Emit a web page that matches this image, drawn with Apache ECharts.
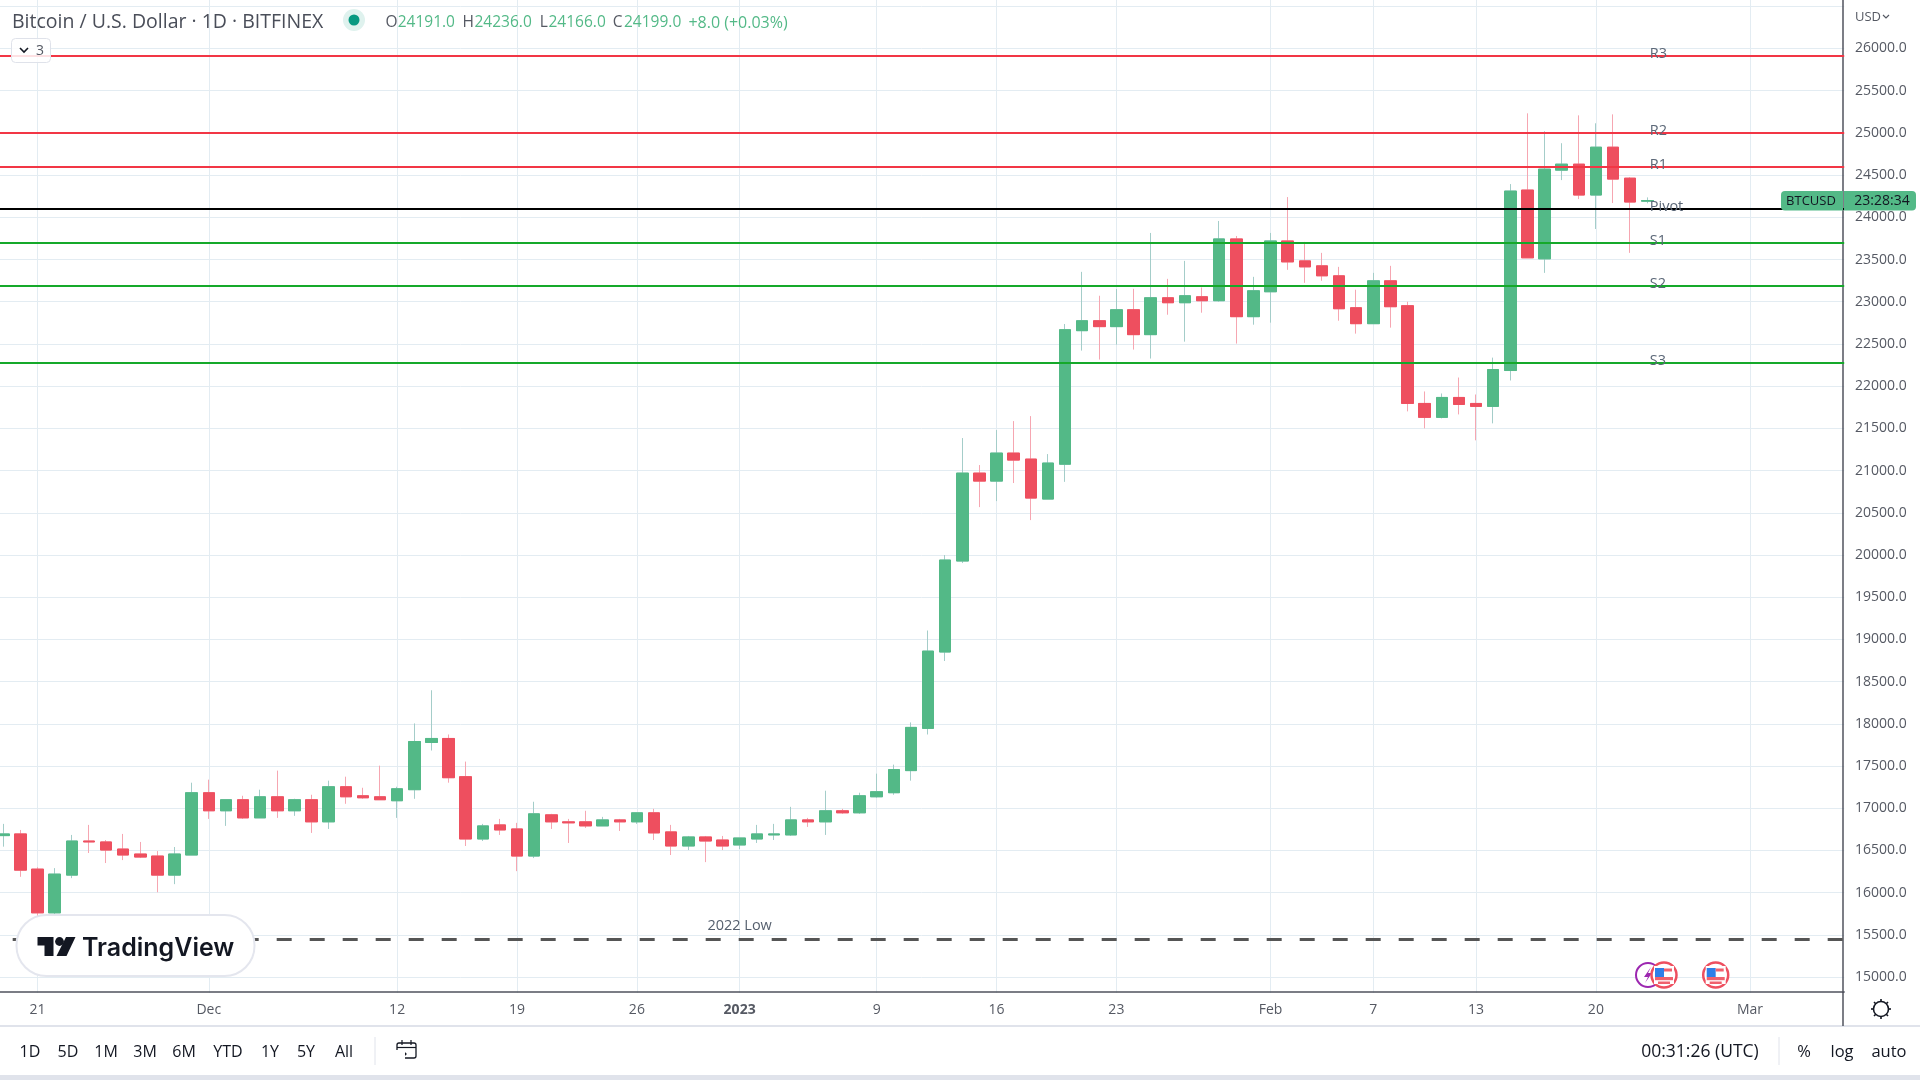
<!DOCTYPE html>
<html><head><meta charset="utf-8"><title>Bitcoin / U.S. Dollar</title>
<style>html,body{margin:0;padding:0;background:#fff}#c{width:1920px;height:1080px}</style>
<script src="https://cdn.jsdelivr.net/npm/echarts@6/dist/echarts.min.js"></script></head>
<body><div id="c"></div><script>
const categories = ['11-19','11-20','11-21','11-22','11-23','11-24','11-25','11-26','11-27','11-28','11-29','11-30',
'12-01','12-02','12-03','12-04','12-05','12-06','12-07','12-08','12-09','12-10','12-11','12-12','12-13','12-14','12-15','12-16','12-17','12-18','12-19','12-20','12-21','12-22','12-23','12-24','12-25','12-26','12-27','12-28','12-29','12-30','12-31',
'01-01','01-02','01-03','01-04','01-05','01-06','01-07','01-08','01-09','01-10','01-11','01-12','01-13','01-14','01-15','01-16','01-17','01-18','01-19','01-20','01-21','01-22','01-23','01-24','01-25','01-26','01-27','01-28','01-29','01-30','01-31',
'02-01','02-02','02-03','02-04','02-05','02-06','02-07','02-08','02-09','02-10','02-11','02-12','02-13','02-14','02-15','02-16','02-17','02-18','02-19','02-20','02-21','02-22','02-23','02-24','02-25','02-26','02-27','02-28',
'03-01','03-02','03-03','03-04','03-05','03-06'];
const tickLabels = {'11-21':'21','12-01':'Dec','12-12':'12','12-19':'19','12-26':'26','01-01':'2023','01-09':'9','01-16':'16','01-23':'23','02-01':'Feb','02-07':'7','02-13':'13','02-20':'20','03-01':'Mar'};
const opens = [16675,16695,16278,15760,16207,16611,16600,16516,16457,16433,16207,16445,
17183,16969,17100,16885,17135,16969,17100,16838,17254,17147,17135,17088,17219,17778,17826,17373,16635,16802,16754,16433,16921,16838,16838,16790,16861,16838,16945,16719,16552,16659,16623,
16564,16635,16683,16683,16861,16838,16969,16945,17135,17183,17445,17945,18850,19928,20970,20875,21207,21136,20662,21075,22657,22775,22705,22905,22610,23047,22988,23059,23012,23744,22823,
23118,23720,23484,23425,23307,22929,22740,23248,22953,21795,21630,21866,21795,21760,22185,24323,23508,24559,24630,24264,24831,24464,24191];
const closes = [16695,16266,15760,16219,16611,16600,16504,16445,16421,16207,16457,17183,
16969,17100,16885,17135,16969,17100,16838,17254,17135,17123,17100,17230,17790,17826,17361,16635,16790,16742,16433,16933,16838,16826,16790,16861,16838,16945,16707,16552,16659,16611,16552,
16647,16695,16695,16861,16838,16969,16945,17147,17195,17457,17957,18861,19940,20970,20875,21207,21124,20674,21089,22669,22775,22705,22905,22610,23047,22988,23071,23012,23744,22823,23130,
23720,23472,23413,23307,22917,22740,23248,22941,21795,21630,21866,21783,21760,22197,24311,23520,24571,24630,24264,24831,24453,24181,24199];
const lows = [16544,16187,15500,15630,16171,16469,16350,16385,16409,16004,16100,16445,
16873,16790,16873,16885,16885,16909,16707,16754,17052,17111,17100,16885,17111,17683,17302,16552,16611,16683,16254,16409,16754,16588,16766,16790,16730,16814,16623,16445,16504,16361,16504,
16516,16588,16623,16671,16778,16683,16933,16933,17123,17159,17326,17873,18744,19904,20567,20638,20852,20413,20662,20866,22421,22315,22492,22433,22327,22846,22527,22870,23000,22504,22728,
22752,23378,23224,23248,22775,22622,22740,22693,21701,21500,21618,21665,21358,21559,22067,23520,23342,24441,24216,23862,24169,23579,24166];
const highs = [16814,16742,16300,16290,16683,16802,16623,16695,16600,16492,16540,17302,
17338,17100,17147,17219,17445,17112,17159,17326,17373,17242,17504,17254,18004,18397,17873,17552,16814,16873,16826,17076,16933,16873,16969,16897,16873,16945,16992,16802,16671,16671,16671,
16647,16802,16814,17016,16885,17207,16992,17183,17409,17516,18016,19105,19999,21385,21065,21480,21586,21645,21195,22736,23354,23071,23150,23153,23815,23271,23484,23169,23957,23779,23295,
23815,24240,23709,23579,23413,23142,23342,23425,23000,21937,21913,22102,21901,22338,24394,25232,25020,24878,25208,25114,25220,24476,24236];
const levelNames = ['R3','R2','R1','Pivot','S1','S2','S3'];
const levelValues = [25911,25000,24597,24100,23700,23190,22280];
const levelColors = ['#f23645','#f23645','#f23645','#000000','#15a92a','#15a92a','#15a92a'];
const lowValue = 15450, lowName = '2022 Low', lowDate = '01-01';
const levelLabelDate = '02-23';
const UI = '"Open Sans",sans-serif';
const GREEN='#53b987', RED='#ee4f5f', WG='#a4cdc9', WR='#f6a6b1', GRID='#e3ecf2', AX='#50535e', TXT='#555963', DARK='#131722';

const full = opens.map((o,i)=>[o,closes[i],lows[i],highs[i]]);
const body = opens.map((o,i)=>[o,closes[i],Math.min(o,closes[i]),Math.max(o,closes[i])]);

function T(x,y,text,size,fill,align,extra){return Object.assign({type:'text',z:300,x,y,silent:true,style:{text,fontSize:size,fontFamily:UI,fill,align:align||'left',verticalAlign:'middle'}},extra||{});}
function L(x1,y1,x2,y2,c,w){return {type:'line',z:300,silent:true,shape:{x1,y1,x2,y2},style:{stroke:c,lineWidth:w||1}};}
function P(points,c){return {type:'polygon',z:301,silent:true,shape:{points},style:{fill:c}};}
function PL(points,c,w){return {type:'polyline',z:301,silent:true,shape:{points},style:{stroke:c,lineWidth:w||1.5,fill:null}};}
function C(cx,cy,r,fill,stroke,w,z){return {type:'circle',z:z||300,silent:true,shape:{cx,cy,r},style:{fill,stroke:stroke||null,lineWidth:w||0}};}
function R(x,y,w,h,fill,stroke,r,z,lw){return {type:'rect',z:z||300,silent:true,shape:{x,y,width:w,height:h,r:r||0},style:{fill,stroke:stroke||null,lineWidth:lw||(stroke?1:0)}};}
function flag(cx,cy){return [
 C(cx,cy,12.5,'#fff',RED,2.5,302),
 {type:'rect',z:303,silent:true,shape:{x:cx-10,y:cy-9,width:20,height:18,r:0},style:{fill:'#fff'}},
 R(cx-9,cy-7,9,9,'#2f7fe8',null,0,304),
 R(cx,cy-6.5,8,3,'#f0616d',null,0,304),
 R(cx-9,cy+2,18,3.2,'#f0616d',null,0,304),
 R(cx-6,cy+6.5,12,2.5,'#f0616d',null,0,304)
];}
const gear=[C(1881,1009,7.5,'#fff',DARK,1.6,302)];
[[0,-10,0,-7.5],[0,10,0,7.5],[-10,0,-7.5,0],[10,0,7.5,0],[-7,-7,-5.3,-5.3],[7,-7,5.3,-5.3],[-7,7,-5.3,5.3],[7,7,5.3,5.3]].forEach(s=>gear.push(L(1881+s[0],1009+s[1],1881+s[2],1009+s[3],DARK,1.6)));

const toolbar=[['1D',30],['5D',68],['1M',106],['3M',145],['6M',184],['YTD',228],['1Y',270],['5Y',306],['All',344]].map(a=>T(a[1],1052,a[0],16,DARK,'center'));

const graphic = [
 R(0,993,1920,87,'#ffffff',null,0,100),
 R(0,1075,1920,5,'#e0e3eb',null,0,101),
 L(0,1026,1920,1026,'#e0e3eb',2),
 L(1843,992,1843,1026,AX,1.5),
 T(12,22,'Bitcoin / U.S. Dollar · 1D · BITFINEX',19.5,'#4a4e59'),
 C(354,20,11,'#dff2ee'),C(354,20,5.5,'#089981'),
 T(385.6,23,'O',15.5,'#555963'),T(397.7,23,'24191.0',15.5,GREEN),
 T(462.4,23,'H',15.5,'#555963'),T(474.5,23,'24236.0',15.5,GREEN),
 T(539.8,23,'L',15.5,'#555963'),T(548.5,23,'24166.0',15.5,GREEN),
 T(612.7,23,'C',15.5,'#555963'),T(624,23,'24199.0',15.5,GREEN),
 T(688.4,23,'+8.0 (+0.03%)',16,GREEN),
 R(11.5,38.5,39,24,'rgba(255,255,255,.85)','#dfe2ea',4),
 PL([[20,48],[24,52],[28,48]],DARK,1.6),T(36,51,'3',14,'#555963'),
 T(1855,17,'USD',13,'#555963'),PL([[1883,15],[1886,18],[1889,15]],'#555963',1.2),
 R(1781,191,62,19.5,GREEN,null,[4,0,0,4]),
 R(1844,191,72,19.5,GREEN,null,[0,4,4,0]),
 T(1811,201,'BTCUSD',13,DARK,'center'),
 T(1882,201,'23:28:34',14,DARK,'center'),
 // events
 C(1648,975,12,'#fff','#9c27b0',2,301),
 P([[1651,967],[1644,977],[1648,977],[1645,983],[1652,973],[1648,973]],'#9c27b0'),
 ...flag(1664,975),...flag(1715.7,975),
 ...gear,...toolbar,
 L(375,1037,375,1065,'#e0e3eb',1),
 R(397,1043,19,15,'rgba(0,0,0,0)',DARK,2,301,1.3),L(397,1047.5,416,1047.5,DARK,1.2),L(402,1040,402,1045,DARK,1.2),L(411,1040,411,1045,DARK,1.2),
 R(394,1050,11,9,'#fff',null,0,302),PL([[396,1054],[406,1054]],DARK,1.3),PL([[403,1051],[406,1054],[403,1057]],DARK,1.3),
 T(1700,1052,'00:31:26 (UTC)',17.5,DARK,'center'),
 L(1779,1037,1779,1065,'#e0e3eb',1),
 T(1804,1052,'%',16.5,DARK,'center'),T(1842,1052,'log',16.5,DARK,'center'),T(1889,1052,'auto',16.5,DARK,'center'),
 // logo
 R(16.5,915,238,61,'#ffffff','#e4e6ee',30,300,2),
 P([[37.5,937],[53.5,937],[53.5,956],[44.5,956],[44.5,945.5],[37.5,945.5]],DARK),
 C(59.5,941.5,4.4,DARK,null,0,301),
 P([[66,937],[75.5,937],[66.5,956],[56.5,956]],DARK),
 {type:'text',z:301,silent:true,x:82,y:948,style:{text:'TradingView',fontSize:25,fontWeight:600,fontFamily:'Inter,sans-serif',fill:DARK,verticalAlign:'middle'}}
];

const option = {
 animation:false, backgroundColor:'#ffffff', graphic,
 grid:{left:-5.31,top:-35.9,width:17.125*108,height:1055.1,containLabel:false,outerBoundsMode:'none'},
 xAxis:[
  {type:'category',data:categories,boundaryGap:true,position:'bottom',axisLine:{show:false,onZero:false},axisTick:{show:false},axisLabel:{show:false},
   splitLine:{show:true,alignWithLabel:true,interval:(i,v)=>v in tickLabels,lineStyle:{color:GRID,width:1}},z:0},
  {type:'category',data:categories,boundaryGap:true,position:'bottom',offset:-27,z:200,
   axisLine:{show:true,onZero:false,lineStyle:{color:AX,width:1.5}},axisTick:{show:false},splitLine:{show:false},
   axisLabel:{show:true,interval:(i,v)=>v in tickLabels,margin:11,fontFamily:UI,fontSize:14,color:TXT,
     formatter:v=>v==='01-01'?'{b|2023}':(tickLabels[v]||''),rich:{b:{fontWeight:'bold',fontFamily:UI,fontSize:14,color:TXT}}}}
 ],
 yAxis:{type:'value',position:'right',offset:-1.2,min:14500,max:27000,interval:500,
  axisLine:{show:true,onZero:false,lineStyle:{color:AX,width:1.5}},axisTick:{show:false},
  axisLabel:{margin:12,padding:[4,0,0,0],fontFamily:UI,fontSize:14,color:TXT,showMinLabel:false,showMaxLabel:false,
    formatter:v=>(v>=15000&&v<=26000)?v.toFixed(1):''},
  splitLine:{show:true,lineStyle:{color:GRID,width:1}}},
 series:[
  {type:'candlestick',name:'BTCUSD wicks',xAxisIndex:0,data:full,barWidth:12,silent:true,z:2,
   itemStyle:{color:GREEN,color0:RED,borderColor:WG,borderColor0:WR,borderWidth:1}},
  {type:'candlestick',name:'BTCUSD',xAxisIndex:0,data:body,barWidth:12,silent:true,z:3,
   itemStyle:{color:GREEN,color0:RED,borderColor:GREEN,borderColor0:RED,borderWidth:1}},
  {type:'scatter',name:'levels',xAxisIndex:0,symbolSize:1,itemStyle:{color:'transparent'},silent:true,z:10,
   data:levelValues.map((v,i)=>({value:[levelLabelDate,v],name:levelNames[i]})),
   label:{show:true,position:'right',distance:2,offset:[0,-2],formatter:'{b}',fontFamily:UI,fontSize:14.5,color:'#5c6878',opacity:1},
   markLine:{silent:true,symbol:'none',animation:false,label:{show:false},
     data:levelValues.map((v,i)=>({yAxis:v,lineStyle:{color:levelColors[i],width:2,type:'solid'}}))}},
  {type:'scatter',name:lowName,xAxisIndex:0,symbolSize:1,itemStyle:{color:'transparent'},silent:true,z:10,
   data:[{value:[lowDate,lowValue],name:lowName}],
   label:{show:true,position:'top',distance:5,formatter:'{b}',fontFamily:UI,fontSize:14.5,color:'#56606e',opacity:1},
   markLine:{silent:true,symbol:'none',animation:false,label:{show:false},
     data:[{yAxis:lowValue,lineStyle:{color:'#555555',width:3,type:[15,18],dashOffset:15}}]}}
 ]
};
echarts.init(document.getElementById('c'),null,{renderer:'canvas'}).setOption(option);
</script></body></html>
